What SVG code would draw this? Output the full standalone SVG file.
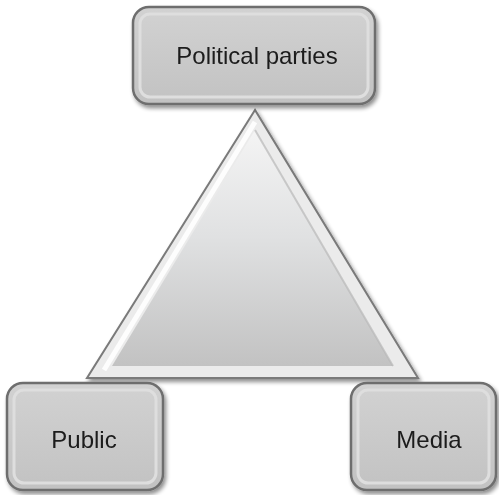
<svg xmlns="http://www.w3.org/2000/svg" width="499" height="495" viewBox="0 0 499 495">
<defs>
<linearGradient id="boxg" x1="0" y1="0" x2="0" y2="1">
<stop offset="0" stop-color="#d2d2d2"/>
<stop offset="1" stop-color="#c2c2c2"/>
</linearGradient>
<linearGradient id="trig" x1="0" y1="0" x2="0" y2="1">
<stop offset="0" stop-color="#f4f4f4"/>
<stop offset="0.45" stop-color="#e0e1e2"/>
<stop offset="1" stop-color="#c2c2c2"/>
</linearGradient>
<filter id="sh" x="-10%" y="-10%" width="130%" height="130%">
<feGaussianBlur in="SourceAlpha" stdDeviation="2"/>
<feOffset dx="2" dy="3"/>
<feComponentTransfer><feFuncA type="linear" slope="0.45"/></feComponentTransfer>
<feMerge><feMergeNode/><feMergeNode in="SourceGraphic"/></feMerge>
</filter>
<style>
.box{fill:url(#boxg);stroke:#6e6e6e;stroke-width:2.5}
.bevel{fill:none;stroke:#dedede;stroke-width:3}
.lbl{font-family:"Liberation Sans",Arial,sans-serif;font-size:24px;fill:#1a1a1a;text-anchor:middle}
</style>
</defs>
<g id="connectors">
<g id="triangle" filter="url(#sh)">
<polygon points="255,110 87,378 418,378" fill="#ebebeb" stroke="#7a7a7a" stroke-width="2"/>
<polygon points="255,130 112,366 393,366" fill="url(#trig)"/>
<polyline points="104,370 255,122" fill="none" stroke="#ffffff" stroke-width="5" opacity="0.9"/>
<polyline points="255,130 393,366" fill="none" stroke="#b8b8b8" stroke-width="2" opacity="0.7"/>
</g>
</g>
<g id="node-political-parties" filter="url(#sh)">
<rect class="box" x="133" y="7" width="242" height="97" rx="16"/>
<rect class="bevel" x="140" y="14" width="228" height="83" rx="10"/>
<text class="lbl" x="257" y="64">Political parties</text>
</g>
<g id="node-public" filter="url(#sh)">
<rect class="box" x="7" y="383" width="156" height="107" rx="16"/>
<rect class="bevel" x="14" y="390" width="142" height="93" rx="10"/>
<text class="lbl" x="84" y="448">Public</text>
</g>
<g id="node-media" filter="url(#sh)">
<rect class="box" x="351" y="383" width="145" height="107" rx="16"/>
<rect class="bevel" x="358" y="390" width="131" height="93" rx="10"/>
<text class="lbl" x="429" y="448">Media</text>
</g>
</svg>
